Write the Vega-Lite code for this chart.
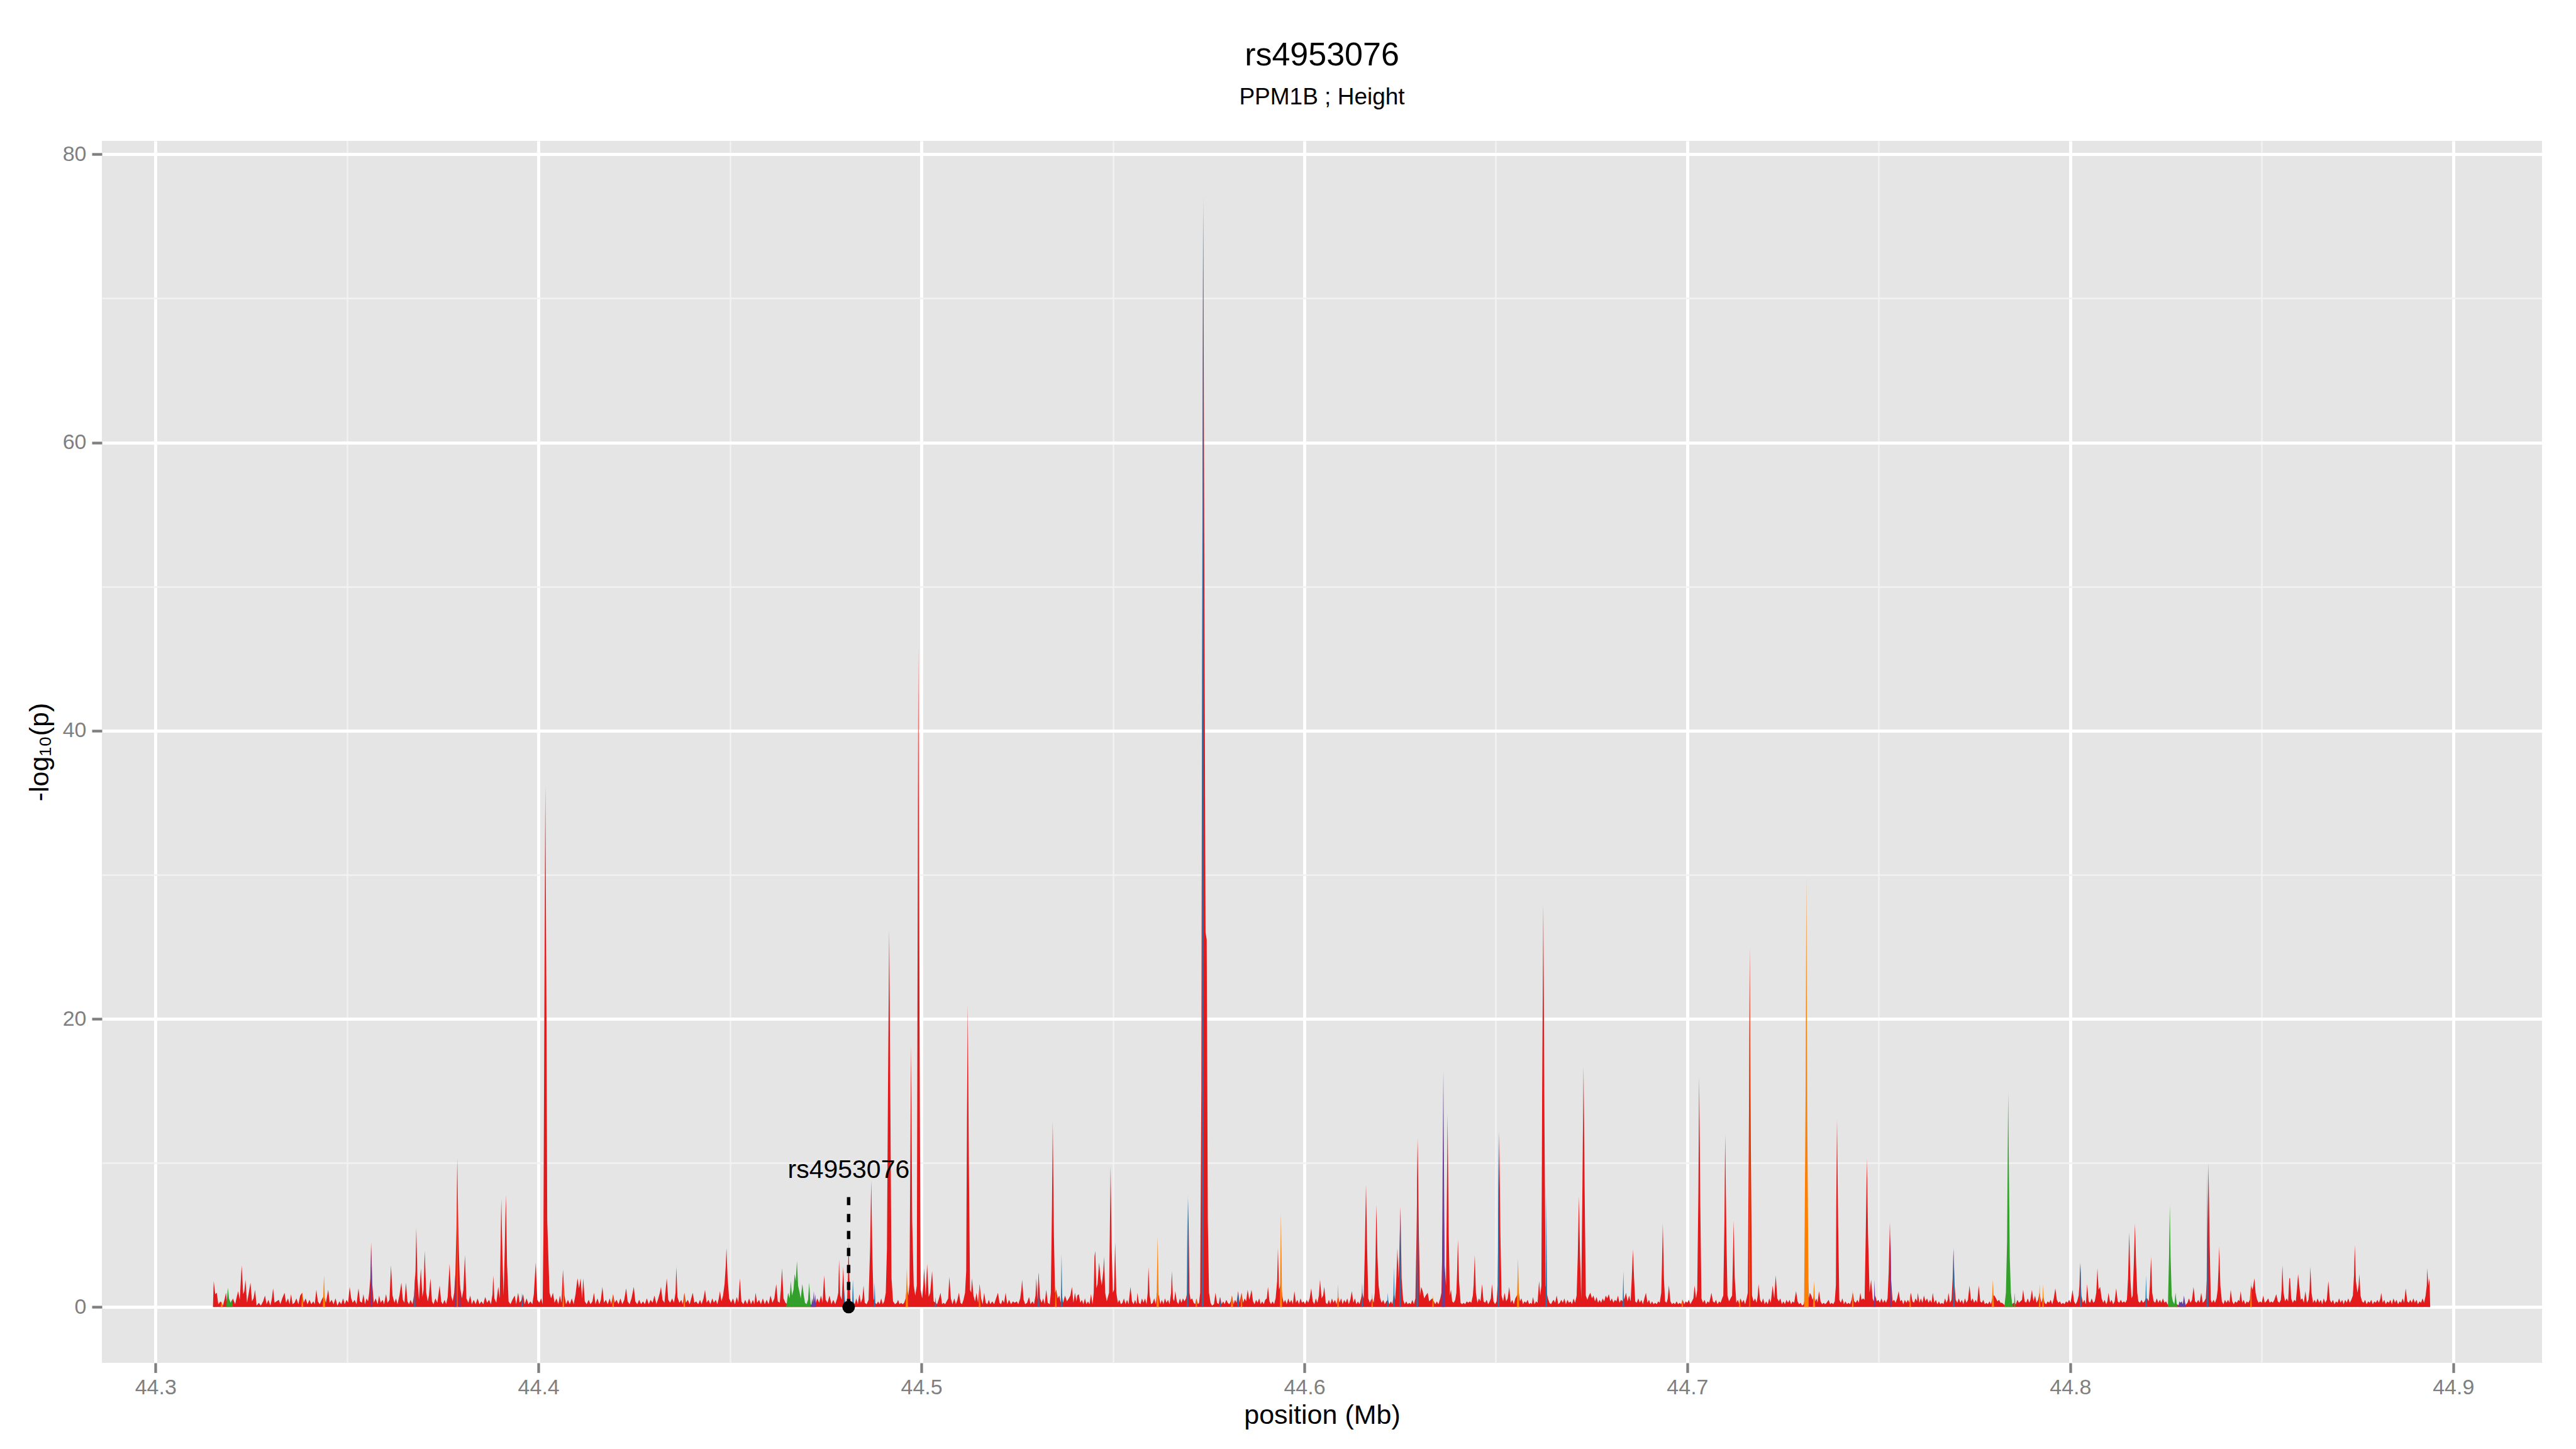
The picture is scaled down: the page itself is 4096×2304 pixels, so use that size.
{
"$schema": "https://vega.github.io/schema/vega-lite/v6.json",
"width": 3880, "height": 1943,
"autosize": {"type": "none"},
"padding": {"left": 162, "top": 224, "right": 54, "bottom": 137},
"background": "white",
"title": {"text": "rs4953076", "subtitle": "PPM1B ; Height", "anchor": "middle", "frame": "group", "font": "Liberation Sans", "subtitleFont": "Liberation Sans", "fontSize": 52, "subtitleFontSize": 37, "fontWeight": "normal", "color": "black", "subtitleColor": "black", "offset": 50, "subtitlePadding": 22},
"config": {"view": {"fill": "#E5E5E5", "stroke": null}, "font": "Liberation Sans"},
"datasets": {
"main": [
{"x":44.3150,"y":0},{"x":44.3152,"y":1.8},{"x":44.3156,"y":0.9},{"x":44.3160,"y":1.0},{"x":44.3164,"y":0.2},{"x":44.3170,"y":0.4},{"x":44.3176,"y":0.1},{"x":44.3181,"y":0.6},{"x":44.3184,"y":1.0},{"x":44.3187,"y":0.3},{"x":44.3192,"y":0.5},{"x":44.3197,"y":0.2},{"x":44.3202,"y":0.6},{"x":44.3208,"y":0.2},{"x":44.3213,"y":0.8},{"x":44.3216,"y":1.1},{"x":44.3220,"y":0.5},{"x":44.3225,"y":2.9},{"x":44.3229,"y":0.9},{"x":44.3232,"y":1.1},{"x":44.3235,"y":1.9},{"x":44.3239,"y":0.3},{"x":44.3243,"y":0.9},{"x":44.3248,"y":1.7},{"x":44.3252,"y":0.4},{"x":44.3256,"y":0.6},{"x":44.3260,"y":1.2},{"x":44.3264,"y":0.1},{"x":44.3270,"y":0.3},{"x":44.3275,"y":0.1},{"x":44.3281,"y":0.4},{"x":44.3286,"y":0.8},{"x":44.3290,"y":0.2},{"x":44.3295,"y":0.5},{"x":44.3300,"y":0.1},{"x":44.3304,"y":0.6},{"x":44.3307,"y":1.3},{"x":44.3311,"y":0.3},{"x":44.3316,"y":0.4},{"x":44.3322,"y":0.5},{"x":44.3326,"y":0.2},{"x":44.3331,"y":0.6},{"x":44.3337,"y":1.0},{"x":44.3341,"y":0.3},{"x":44.3346,"y":0.6},{"x":44.3350,"y":0.2},{"x":44.3354,"y":0.9},{"x":44.3358,"y":0.2},{"x":44.3363,"y":0.3},{"x":44.3368,"y":0.6},{"x":44.3373,"y":0.2},{"x":44.3378,"y":0.8},{"x":44.3383,"y":1.0},{"x":44.3387,"y":0.3},{"x":44.3392,"y":0.6},{"x":44.3397,"y":0.2},{"x":44.3402,"y":0.5},{"x":44.3407,"y":0.2},{"x":44.3412,"y":0.4},{"x":44.3416,"y":0.2},{"x":44.3420,"y":1.2},{"x":44.3424,"y":0.4},{"x":44.3429,"y":0.2},{"x":44.3434,"y":0.5},{"x":44.3440,"y":0.8},{"x":44.3445,"y":0.3},{"x":44.3451,"y":1.2},{"x":44.3455,"y":0.3},{"x":44.3460,"y":0.5},{"x":44.3465,"y":0.2},{"x":44.3470,"y":0.6},{"x":44.3475,"y":0.1},{"x":44.3480,"y":0.4},{"x":44.3485,"y":0.2},{"x":44.3490,"y":0.6},{"x":44.3494,"y":0.2},{"x":44.3499,"y":0.5},{"x":44.3503,"y":0.3},{"x":44.3507,"y":1.4},{"x":44.3511,"y":0.6},{"x":44.3515,"y":0.3},{"x":44.3520,"y":0.5},{"x":44.3525,"y":0.2},{"x":44.3530,"y":1.3},{"x":44.3534,"y":0.4},{"x":44.3539,"y":0.3},{"x":44.3543,"y":0.9},{"x":44.3547,"y":0.2},{"x":44.3551,"y":0.6},{"x":44.3555,"y":0.4},{"x":44.3558,"y":1.0},{"x":44.3561,"y":2.0},{"x":44.3563,"y":4.5},{"x":44.3566,"y":1.6},{"x":44.3570,"y":0.3},{"x":44.3575,"y":0.6},{"x":44.3580,"y":0.2},{"x":44.3584,"y":0.8},{"x":44.3588,"y":0.3},{"x":44.3593,"y":0.5},{"x":44.3597,"y":0.2},{"x":44.3602,"y":0.9},{"x":44.3606,"y":0.3},{"x":44.3611,"y":0.5},{"x":44.3615,"y":2.9},{"x":44.3619,"y":0.8},{"x":44.3624,"y":0.3},{"x":44.3628,"y":0.6},{"x":44.3632,"y":0.2},{"x":44.3637,"y":0.8},{"x":44.3642,"y":1.7},{"x":44.3646,"y":0.5},{"x":44.3650,"y":0.3},{"x":44.3654,"y":1.7},{"x":44.3658,"y":0.4},{"x":44.3662,"y":0.2},{"x":44.3666,"y":0.5},{"x":44.3671,"y":0.2},{"x":44.3675,"y":0.8},{"x":44.3679,"y":2.5},{"x":44.3681,"y":5.5},{"x":44.3684,"y":2.0},{"x":44.3688,"y":0.5},{"x":44.3693,"y":2.7},{"x":44.3697,"y":0.7},{"x":44.3700,"y":1.2},{"x":44.3703,"y":3.9},{"x":44.3707,"y":1.0},{"x":44.3711,"y":0.4},{"x":44.3714,"y":0.8},{"x":44.3718,"y":2.0},{"x":44.3722,"y":0.4},{"x":44.3726,"y":0.2},{"x":44.3731,"y":0.6},{"x":44.3736,"y":0.3},{"x":44.3742,"y":1.5},{"x":44.3746,"y":0.4},{"x":44.3750,"y":0.2},{"x":44.3755,"y":0.5},{"x":44.3759,"y":0.2},{"x":44.3763,"y":0.7},{"x":44.3768,"y":3.0},{"x":44.3772,"y":0.8},{"x":44.3776,"y":0.4},{"x":44.3780,"y":1.0},{"x":44.3783,"y":2.3},{"x":44.3786,"y":5.5},{"x":44.3788,"y":10.3},{"x":44.3791,"y":5.0},{"x":44.3795,"y":1.5},{"x":44.3800,"y":0.6},{"x":44.3804,"y":1.2},{"x":44.3808,"y":3.6},{"x":44.3812,"y":0.6},{"x":44.3817,"y":0.3},{"x":44.3822,"y":0.8},{"x":44.3826,"y":0.2},{"x":44.3831,"y":0.5},{"x":44.3836,"y":0.2},{"x":44.3841,"y":0.6},{"x":44.3846,"y":0.2},{"x":44.3851,"y":0.4},{"x":44.3856,"y":0.2},{"x":44.3861,"y":0.7},{"x":44.3866,"y":0.3},{"x":44.3871,"y":0.5},{"x":44.3876,"y":0.2},{"x":44.3880,"y":0.9},{"x":44.3882,"y":2.2},{"x":44.3885,"y":0.6},{"x":44.3890,"y":0.3},{"x":44.3895,"y":1.4},{"x":44.3899,"y":0.6},{"x":44.3901,"y":4.0},{"x":44.3903,"y":7.5},{"x":44.3906,"y":3.5},{"x":44.3909,"y":0.8},{"x":44.3912,"y":4.0},{"x":44.3915,"y":7.8},{"x":44.3918,"y":3.0},{"x":44.3922,"y":0.4},{"x":44.3927,"y":0.2},{"x":44.3932,"y":0.5},{"x":44.3938,"y":0.8},{"x":44.3942,"y":0.2},{"x":44.3947,"y":1.0},{"x":44.3951,"y":0.3},{"x":44.3956,"y":0.5},{"x":44.3960,"y":0.9},{"x":44.3964,"y":0.2},{"x":44.3969,"y":0.6},{"x":44.3974,"y":0.2},{"x":44.3979,"y":0.4},{"x":44.3984,"y":0.2},{"x":44.3988,"y":0.9},{"x":44.3993,"y":3.1},{"x":44.3997,"y":0.5},{"x":44.4002,"y":0.3},{"x":44.4007,"y":0.6},{"x":44.4011,"y":0.2},{"x":44.4013,"y":5.0},{"x":44.4016,"y":24.0},{"x":44.4018,"y":36.2},{"x":44.4021,"y":20.0},{"x":44.4023,"y":6.0},{"x":44.4026,"y":3.4},{"x":44.4029,"y":1.0},{"x":44.4033,"y":0.6},{"x":44.4038,"y":1.0},{"x":44.4042,"y":0.3},{"x":44.4047,"y":0.6},{"x":44.4052,"y":0.2},{"x":44.4056,"y":0.8},{"x":44.4060,"y":0.3},{"x":44.4064,"y":2.6},{"x":44.4068,"y":0.8},{"x":44.4072,"y":0.2},{"x":44.4077,"y":0.5},{"x":44.4082,"y":0.2},{"x":44.4087,"y":0.6},{"x":44.4092,"y":0.2},{"x":44.4097,"y":0.9},{"x":44.4100,"y":1.6},{"x":44.4102,"y":2.0},{"x":44.4106,"y":1.3},{"x":44.4110,"y":2.0},{"x":44.4114,"y":0.6},{"x":44.4117,"y":2.0},{"x":44.4121,"y":0.4},{"x":44.4126,"y":0.2},{"x":44.4131,"y":0.5},{"x":44.4136,"y":0.2},{"x":44.4141,"y":0.4},{"x":44.4145,"y":1.0},{"x":44.4149,"y":0.2},{"x":44.4154,"y":0.6},{"x":44.4159,"y":0.2},{"x":44.4163,"y":0.5},{"x":44.4167,"y":1.4},{"x":44.4171,"y":0.3},{"x":44.4176,"y":0.5},{"x":44.4181,"y":0.2},{"x":44.4186,"y":0.6},{"x":44.4190,"y":0.2},{"x":44.4195,"y":0.9},{"x":44.4199,"y":0.3},{"x":44.4204,"y":0.5},{"x":44.4209,"y":0.2},{"x":44.4214,"y":0.6},{"x":44.4219,"y":0.2},{"x":44.4224,"y":0.5},{"x":44.4229,"y":1.3},{"x":44.4233,"y":0.4},{"x":44.4238,"y":0.2},{"x":44.4243,"y":0.6},{"x":44.4249,"y":1.4},{"x":44.4253,"y":0.4},{"x":44.4258,"y":0.2},{"x":44.4263,"y":0.5},{"x":44.4268,"y":0.2},{"x":44.4273,"y":0.4},{"x":44.4278,"y":0.2},{"x":44.4283,"y":0.6},{"x":44.4288,"y":0.2},{"x":44.4293,"y":0.5},{"x":44.4298,"y":0.3},{"x":44.4303,"y":0.8},{"x":44.4308,"y":0.2},{"x":44.4313,"y":0.6},{"x":44.4317,"y":1.0},{"x":44.4320,"y":1.4},{"x":44.4324,"y":0.5},{"x":44.4329,"y":0.3},{"x":44.4335,"y":2.0},{"x":44.4339,"y":0.5},{"x":44.4344,"y":0.3},{"x":44.4349,"y":0.6},{"x":44.4354,"y":0.3},{"x":44.4358,"y":1.0},{"x":44.4360,"y":2.8},{"x":44.4363,"y":0.7},{"x":44.4368,"y":0.3},{"x":44.4373,"y":0.5},{"x":44.4377,"y":0.2},{"x":44.4381,"y":1.0},{"x":44.4385,"y":0.3},{"x":44.4390,"y":0.5},{"x":44.4395,"y":0.2},{"x":44.4399,"y":0.6},{"x":44.4403,"y":1.0},{"x":44.4407,"y":0.3},{"x":44.4412,"y":0.4},{"x":44.4417,"y":0.2},{"x":44.4422,"y":0.5},{"x":44.4426,"y":0.2},{"x":44.4431,"y":0.6},{"x":44.4435,"y":1.2},{"x":44.4439,"y":0.3},{"x":44.4444,"y":0.5},{"x":44.4449,"y":0.2},{"x":44.4454,"y":0.6},{"x":44.4458,"y":0.3},{"x":44.4463,"y":0.5},{"x":44.4467,"y":0.2},{"x":44.4471,"y":0.6},{"x":44.4474,"y":1.1},{"x":44.4478,"y":0.4},{"x":44.4482,"y":0.8},{"x":44.4486,"y":1.6},{"x":44.4489,"y":2.8},{"x":44.4491,"y":4.1},{"x":44.4494,"y":2.0},{"x":44.4498,"y":0.6},{"x":44.4503,"y":0.3},{"x":44.4508,"y":0.6},{"x":44.4513,"y":0.2},{"x":44.4518,"y":0.7},{"x":44.4522,"y":0.3},{"x":44.4526,"y":2.0},{"x":44.4530,"y":0.4},{"x":44.4535,"y":0.2},{"x":44.4540,"y":0.5},{"x":44.4545,"y":0.2},{"x":44.4550,"y":0.6},{"x":44.4555,"y":0.2},{"x":44.4560,"y":0.5},{"x":44.4564,"y":0.2},{"x":44.4567,"y":1.0},{"x":44.4571,"y":0.3},{"x":44.4576,"y":0.5},{"x":44.4581,"y":0.2},{"x":44.4586,"y":0.6},{"x":44.4591,"y":0.2},{"x":44.4596,"y":0.5},{"x":44.4601,"y":0.2},{"x":44.4606,"y":0.8},{"x":44.4611,"y":0.3},{"x":44.4616,"y":0.6},{"x":44.4621,"y":1.6},{"x":44.4625,"y":0.4},{"x":44.4630,"y":0.3},{"x":44.4633,"y":1.2},{"x":44.4636,"y":2.7},{"x":44.4640,"y":0.6},{"x":44.4645,"y":0.3},{"x":44.4650,"y":0.2},{"x":44.4660,"y":0.1},{"x":44.4670,"y":0.1},{"x":44.4680,"y":0.1},{"x":44.4690,"y":0.1},{"x":44.4700,"y":0.1},{"x":44.4710,"y":0.2},{"x":44.4716,"y":0.1},{"x":44.4722,"y":0.1},{"x":44.4728,"y":0.6},{"x":44.4733,"y":0.3},{"x":44.4738,"y":0.8},{"x":44.4742,"y":0.3},{"x":44.4746,"y":2.2},{"x":44.4750,"y":0.5},{"x":44.4755,"y":0.3},{"x":44.4760,"y":0.8},{"x":44.4765,"y":0.2},{"x":44.4770,"y":0.5},{"x":44.4775,"y":0.2},{"x":44.4780,"y":0.6},{"x":44.4783,"y":1.0},{"x":44.4785,"y":3.3},{"x":44.4788,"y":0.8},{"x":44.4792,"y":0.5},{"x":44.4796,"y":2.8},{"x":44.4799,"y":0.6},{"x":44.4802,"y":0.2},{"x":44.4806,"y":0.5},{"x":44.4808,"y":2.0},{"x":44.4810,"y":4.5},{"x":44.4812,"y":2.0},{"x":44.4815,"y":0.3},{"x":44.4818,"y":0.2},{"x":44.4822,"y":0.4},{"x":44.4826,"y":0.2},{"x":44.4830,"y":0.6},{"x":44.4834,"y":0.2},{"x":44.4838,"y":0.9},{"x":44.4842,"y":0.3},{"x":44.4846,"y":0.6},{"x":44.4849,"y":1.5},{"x":44.4852,"y":0.3},{"x":44.4857,"y":0.2},{"x":44.4862,"y":0.5},{"x":44.4866,"y":4.0},{"x":44.4869,"y":8.8},{"x":44.4872,"y":3.5},{"x":44.4875,"y":0.6},{"x":44.4879,"y":0.3},{"x":44.4883,"y":0.2},{"x":44.4887,"y":0.4},{"x":44.4891,"y":0.2},{"x":44.4895,"y":0.6},{"x":44.4899,"y":0.2},{"x":44.4903,"y":0.4},{"x":44.4907,"y":1.0},{"x":44.4910,"y":4.0},{"x":44.4913,"y":16.0},{"x":44.4916,"y":26.2},{"x":44.4919,"y":14.0},{"x":44.4922,"y":2.0},{"x":44.4926,"y":0.4},{"x":44.4931,"y":0.2},{"x":44.4936,"y":0.3},{"x":44.4939,"y":0.5},{"x":44.4943,"y":0.2},{"x":44.4947,"y":0.3},{"x":44.4951,"y":0.2},{"x":44.4955,"y":0.3},{"x":44.4959,"y":0.6},{"x":44.4962,"y":1.5},{"x":44.4966,"y":0.8},{"x":44.4969,"y":1.6},{"x":44.4971,"y":10.0},{"x":44.4973,"y":18.2},{"x":44.4976,"y":6.0},{"x":44.4980,"y":1.5},{"x":44.4984,"y":0.8},{"x":44.4988,"y":1.5},{"x":44.4990,"y":24.0},{"x":44.4992,"y":45.8},{"x":44.4995,"y":20.0},{"x":44.4998,"y":1.2},{"x":44.5002,"y":0.6},{"x":44.5005,"y":1.5},{"x":44.5007,"y":2.7},{"x":44.5011,"y":0.8},{"x":44.5015,"y":3.0},{"x":44.5019,"y":0.7},{"x":44.5023,"y":1.0},{"x":44.5028,"y":2.5},{"x":44.5032,"y":0.4},{"x":44.5037,"y":0.3},{"x":44.5041,"y":0.2},{"x":44.5046,"y":0.6},{"x":44.5050,"y":1.0},{"x":44.5054,"y":0.2},{"x":44.5058,"y":0.3},{"x":44.5062,"y":0.2},{"x":44.5066,"y":0.4},{"x":44.5070,"y":0.6},{"x":44.5073,"y":2.1},{"x":44.5077,"y":0.6},{"x":44.5081,"y":0.2},{"x":44.5086,"y":0.6},{"x":44.5090,"y":0.2},{"x":44.5094,"y":0.5},{"x":44.5098,"y":1.0},{"x":44.5102,"y":0.3},{"x":44.5106,"y":0.2},{"x":44.5110,"y":0.5},{"x":44.5114,"y":1.0},{"x":44.5117,"y":2.5},{"x":44.5119,"y":13.0},{"x":44.5121,"y":21.0},{"x":44.5124,"y":10.0},{"x":44.5127,"y":1.2},{"x":44.5130,"y":1.0},{"x":44.5132,"y":2.0},{"x":44.5136,"y":0.8},{"x":44.5140,"y":0.4},{"x":44.5144,"y":1.0},{"x":44.5148,"y":0.3},{"x":44.5152,"y":1.6},{"x":44.5156,"y":0.6},{"x":44.5160,"y":0.2},{"x":44.5164,"y":1.0},{"x":44.5168,"y":0.3},{"x":44.5172,"y":0.2},{"x":44.5176,"y":0.5},{"x":44.5180,"y":0.2},{"x":44.5185,"y":0.4},{"x":44.5190,"y":0.2},{"x":44.5195,"y":0.6},{"x":44.5200,"y":1.0},{"x":44.5204,"y":0.3},{"x":44.5208,"y":0.2},{"x":44.5212,"y":0.5},{"x":44.5216,"y":0.3},{"x":44.5220,"y":1.0},{"x":44.5224,"y":0.2},{"x":44.5229,"y":0.5},{"x":44.5234,"y":0.2},{"x":44.5239,"y":0.4},{"x":44.5244,"y":0.3},{"x":44.5249,"y":0.4},{"x":44.5253,"y":0.2},{"x":44.5258,"y":0.6},{"x":44.5261,"y":1.2},{"x":44.5263,"y":1.9},{"x":44.5267,"y":0.5},{"x":44.5271,"y":0.2},{"x":44.5276,"y":0.3},{"x":44.5281,"y":0.7},{"x":44.5285,"y":0.2},{"x":44.5290,"y":0.4},{"x":44.5294,"y":0.2},{"x":44.5298,"y":0.8},{"x":44.5300,"y":2.0},{"x":44.5303,"y":0.5},{"x":44.5306,"y":2.4},{"x":44.5310,"y":0.6},{"x":44.5314,"y":0.3},{"x":44.5318,"y":0.6},{"x":44.5322,"y":0.2},{"x":44.5326,"y":1.2},{"x":44.5330,"y":0.3},{"x":44.5335,"y":0.2},{"x":44.5338,"y":1.0},{"x":44.5341,"y":7.0},{"x":44.5343,"y":12.9},{"x":44.5346,"y":5.0},{"x":44.5349,"y":1.0},{"x":44.5352,"y":1.2},{"x":44.5356,"y":0.6},{"x":44.5360,"y":0.8},{"x":44.5364,"y":0.3},{"x":44.5366,"y":1.0},{"x":44.5370,"y":0.3},{"x":44.5375,"y":0.8},{"x":44.5380,"y":0.4},{"x":44.5385,"y":0.6},{"x":44.5389,"y":0.8},{"x":44.5393,"y":1.4},{"x":44.5397,"y":0.3},{"x":44.5401,"y":1.0},{"x":44.5405,"y":0.4},{"x":44.5407,"y":0.8},{"x":44.5411,"y":0.9},{"x":44.5415,"y":0.3},{"x":44.5419,"y":0.5},{"x":44.5423,"y":0.2},{"x":44.5427,"y":0.6},{"x":44.5431,"y":0.2},{"x":44.5435,"y":0.4},{"x":44.5439,"y":0.2},{"x":44.5443,"y":0.9},{"x":44.5447,"y":0.2},{"x":44.5450,"y":1.0},{"x":44.5452,"y":3.5},{"x":44.5454,"y":3.9},{"x":44.5457,"y":1.3},{"x":44.5460,"y":1.6},{"x":44.5464,"y":3.1},{"x":44.5468,"y":2.0},{"x":44.5471,"y":1.5},{"x":44.5475,"y":2.5},{"x":44.5477,"y":3.5},{"x":44.5480,"y":1.0},{"x":44.5484,"y":0.4},{"x":44.5490,"y":1.0},{"x":44.5492,"y":5.0},{"x":44.5494,"y":9.8},{"x":44.5497,"y":4.0},{"x":44.5500,"y":1.0},{"x":44.5503,"y":1.2},{"x":44.5506,"y":4.5},{"x":44.5509,"y":1.0},{"x":44.5513,"y":0.3},{"x":44.5517,"y":0.5},{"x":44.5521,"y":0.2},{"x":44.5525,"y":0.3},{"x":44.5529,"y":0.6},{"x":44.5533,"y":0.2},{"x":44.5537,"y":0.5},{"x":44.5541,"y":0.2},{"x":44.5546,"y":1.4},{"x":44.5550,"y":0.4},{"x":44.5554,"y":0.2},{"x":44.5558,"y":0.5},{"x":44.5562,"y":0.2},{"x":44.5564,"y":1.0},{"x":44.5568,"y":0.3},{"x":44.5572,"y":0.2},{"x":44.5576,"y":0.6},{"x":44.5580,"y":0.3},{"x":44.5584,"y":0.6},{"x":44.5588,"y":0.2},{"x":44.5591,"y":1.0},{"x":44.5593,"y":2.8},{"x":44.5596,"y":0.8},{"x":44.5600,"y":0.2},{"x":44.5604,"y":0.3},{"x":44.5608,"y":0.6},{"x":44.5612,"y":0.2},{"x":44.5615,"y":1.0},{"x":44.5620,"y":0.8},{"x":44.5624,"y":0.2},{"x":44.5628,"y":0.5},{"x":44.5632,"y":0.2},{"x":44.5636,"y":0.6},{"x":44.5640,"y":0.3},{"x":44.5644,"y":0.5},{"x":44.5648,"y":0.2},{"x":44.5652,"y":1.0},{"x":44.5654,"y":2.5},{"x":44.5657,"y":0.6},{"x":44.5660,"y":0.4},{"x":44.5663,"y":1.1},{"x":44.5667,"y":0.4},{"x":44.5671,"y":0.2},{"x":44.5675,"y":0.6},{"x":44.5679,"y":0.3},{"x":44.5683,"y":0.6},{"x":44.5687,"y":0.4},{"x":44.5691,"y":0.6},{"x":44.5694,"y":1.0},{"x":44.5697,"y":7.5},{"x":44.5700,"y":1.0},{"x":44.5703,"y":0.5},{"x":44.5707,"y":0.6},{"x":44.5711,"y":0.3},{"x":44.5715,"y":0.2},{"x":44.5718,"y":0.6},{"x":44.5722,"y":0.2},{"x":44.5725,"y":0.3},{"x":44.5728,"y":1.0},{"x":44.5731,"y":15.0},{"x":44.5733,"y":45.0},{"x":44.5736,"y":77.0},{"x":44.5739,"y":50.0},{"x":44.5742,"y":26.0},{"x":44.5745,"y":25.5},{"x":44.5748,"y":6.0},{"x":44.5751,"y":1.0},{"x":44.5755,"y":0.3},{"x":44.5759,"y":0.1},{"x":44.5764,"y":0.2},{"x":44.5768,"y":1.0},{"x":44.5772,"y":0.3},{"x":44.5776,"y":0.2},{"x":44.5780,"y":0.7},{"x":44.5784,"y":0.2},{"x":44.5788,"y":0.4},{"x":44.5792,"y":0.2},{"x":44.5796,"y":0.5},{"x":44.5800,"y":0.3},{"x":44.5804,"y":0.2},{"x":44.5808,"y":0.4},{"x":44.5811,"y":0.8},{"x":44.5815,"y":0.2},{"x":44.5819,"y":0.5},{"x":44.5823,"y":0.3},{"x":44.5827,"y":1.1},{"x":44.5831,"y":0.3},{"x":44.5836,"y":1.0},{"x":44.5840,"y":0.3},{"x":44.5844,"y":0.6},{"x":44.5848,"y":0.4},{"x":44.5852,"y":1.2},{"x":44.5856,"y":0.5},{"x":44.5859,"y":0.8},{"x":44.5862,"y":1.2},{"x":44.5866,"y":0.4},{"x":44.5870,"y":0.2},{"x":44.5874,"y":0.5},{"x":44.5878,"y":0.3},{"x":44.5882,"y":0.6},{"x":44.5886,"y":0.2},{"x":44.5890,"y":0.4},{"x":44.5894,"y":0.2},{"x":44.5898,"y":0.5},{"x":44.5902,"y":0.6},{"x":44.5905,"y":1.4},{"x":44.5909,"y":0.4},{"x":44.5913,"y":0.2},{"x":44.5917,"y":0.4},{"x":44.5921,"y":0.2},{"x":44.5925,"y":0.6},{"x":44.5929,"y":1.8},{"x":44.5931,"y":4.1},{"x":44.5934,"y":1.2},{"x":44.5937,"y":1.5},{"x":44.5939,"y":2.0},{"x":44.5942,"y":0.8},{"x":44.5946,"y":0.3},{"x":44.5950,"y":0.5},{"x":44.5954,"y":0.2},{"x":44.5958,"y":0.6},{"x":44.5962,"y":0.3},{"x":44.5966,"y":0.5},{"x":44.5970,"y":0.2},{"x":44.5974,"y":1.1},{"x":44.5978,"y":0.3},{"x":44.5982,"y":0.5},{"x":44.5986,"y":0.2},{"x":44.5990,"y":0.6},{"x":44.5994,"y":0.3},{"x":44.5998,"y":0.4},{"x":44.6002,"y":0.2},{"x":44.6006,"y":0.5},{"x":44.6010,"y":0.3},{"x":44.6014,"y":0.6},{"x":44.6018,"y":1.3},{"x":44.6022,"y":0.4},{"x":44.6026,"y":0.2},{"x":44.6030,"y":0.6},{"x":44.6034,"y":0.3},{"x":44.6038,"y":0.8},{"x":44.6041,"y":1.9},{"x":44.6045,"y":0.6},{"x":44.6049,"y":0.8},{"x":44.6052,"y":1.4},{"x":44.6056,"y":0.3},{"x":44.6060,"y":0.2},{"x":44.6064,"y":0.5},{"x":44.6068,"y":0.2},{"x":44.6072,"y":0.6},{"x":44.6076,"y":0.3},{"x":44.6080,"y":0.5},{"x":44.6084,"y":0.2},{"x":44.6088,"y":0.8},{"x":44.6092,"y":0.3},{"x":44.6096,"y":0.6},{"x":44.6100,"y":0.2},{"x":44.6104,"y":0.5},{"x":44.6108,"y":0.3},{"x":44.6112,"y":0.6},{"x":44.6116,"y":0.2},{"x":44.6120,"y":0.5},{"x":44.6124,"y":1.1},{"x":44.6128,"y":0.3},{"x":44.6132,"y":0.6},{"x":44.6136,"y":0.2},{"x":44.6140,"y":0.4},{"x":44.6144,"y":0.2},{"x":44.6148,"y":0.6},{"x":44.6151,"y":1.0},{"x":44.6155,"y":0.6},{"x":44.6158,"y":4.0},{"x":44.6161,"y":8.5},{"x":44.6164,"y":4.0},{"x":44.6167,"y":0.6},{"x":44.6171,"y":0.3},{"x":44.6174,"y":0.5},{"x":44.6177,"y":0.6},{"x":44.6181,"y":0.3},{"x":44.6184,"y":1.0},{"x":44.6186,"y":3.5},{"x":44.6188,"y":7.1},{"x":44.6191,"y":3.5},{"x":44.6194,"y":1.5},{"x":44.6198,"y":0.6},{"x":44.6202,"y":0.3},{"x":44.6206,"y":0.5},{"x":44.6210,"y":0.2},{"x":44.6214,"y":0.4},{"x":44.6218,"y":0.5},{"x":44.6222,"y":0.2},{"x":44.6226,"y":0.4},{"x":44.6230,"y":0.2},{"x":44.6234,"y":1.0},{"x":44.6237,"y":0.5},{"x":44.6240,"y":1.8},{"x":44.6243,"y":4.1},{"x":44.6246,"y":2.0},{"x":44.6248,"y":3.5},{"x":44.6251,"y":7.0},{"x":44.6254,"y":2.0},{"x":44.6258,"y":0.5},{"x":44.6262,"y":0.2},{"x":44.6266,"y":0.4},{"x":44.6270,"y":0.2},{"x":44.6274,"y":0.3},{"x":44.6278,"y":0.2},{"x":44.6282,"y":0.5},{"x":44.6286,"y":0.2},{"x":44.6290,"y":0.6},{"x":44.6293,"y":5.0},{"x":44.6296,"y":11.7},{"x":44.6299,"y":5.0},{"x":44.6302,"y":0.8},{"x":44.6305,"y":1.4},{"x":44.6309,"y":1.1},{"x":44.6313,"y":0.6},{"x":44.6317,"y":0.8},{"x":44.6322,"y":1.0},{"x":44.6326,"y":0.4},{"x":44.6330,"y":0.5},{"x":44.6334,"y":0.6},{"x":44.6338,"y":0.4},{"x":44.6342,"y":0.2},{"x":44.6346,"y":0.4},{"x":44.6350,"y":0.2},{"x":44.6355,"y":0.6},{"x":44.6358,"y":1.0},{"x":44.6361,"y":5.0},{"x":44.6363,"y":10.0},{"x":44.6366,"y":3.0},{"x":44.6370,"y":1.5},{"x":44.6372,"y":7.0},{"x":44.6374,"y":13.4},{"x":44.6377,"y":5.0},{"x":44.6380,"y":0.8},{"x":44.6383,"y":1.2},{"x":44.6386,"y":0.4},{"x":44.6390,"y":0.3},{"x":44.6394,"y":0.5},{"x":44.6397,"y":1.0},{"x":44.6399,"y":2.5},{"x":44.6401,"y":4.7},{"x":44.6404,"y":1.8},{"x":44.6408,"y":0.3},{"x":44.6412,"y":0.2},{"x":44.6416,"y":0.3},{"x":44.6420,"y":0.2},{"x":44.6424,"y":0.4},{"x":44.6428,"y":0.3},{"x":44.6432,"y":0.4},{"x":44.6436,"y":0.3},{"x":44.6440,"y":0.8},{"x":44.6442,"y":1.5},{"x":44.6445,"y":3.6},{"x":44.6448,"y":1.0},{"x":44.6452,"y":0.3},{"x":44.6456,"y":0.6},{"x":44.6460,"y":0.4},{"x":44.6464,"y":1.6},{"x":44.6468,"y":0.4},{"x":44.6472,"y":0.3},{"x":44.6476,"y":0.5},{"x":44.6480,"y":0.2},{"x":44.6484,"y":0.4},{"x":44.6487,"y":0.6},{"x":44.6490,"y":1.6},{"x":44.6494,"y":0.4},{"x":44.6498,"y":0.2},{"x":44.6502,"y":0.4},{"x":44.6505,"y":1.5},{"x":44.6507,"y":7.0},{"x":44.6509,"y":12.2},{"x":44.6512,"y":5.0},{"x":44.6515,"y":0.8},{"x":44.6519,"y":0.4},{"x":44.6523,"y":1.0},{"x":44.6527,"y":0.4},{"x":44.6531,"y":0.6},{"x":44.6535,"y":1.4},{"x":44.6539,"y":0.3},{"x":44.6543,"y":0.5},{"x":44.6547,"y":0.2},{"x":44.6551,"y":0.6},{"x":44.6555,"y":0.8},{"x":44.6560,"y":1.0},{"x":44.6563,"y":0.4},{"x":44.6567,"y":0.6},{"x":44.6571,"y":0.2},{"x":44.6575,"y":0.4},{"x":44.6579,"y":0.3},{"x":44.6583,"y":0.5},{"x":44.6587,"y":0.2},{"x":44.6591,"y":0.3},{"x":44.6594,"y":0.2},{"x":44.6597,"y":0.7},{"x":44.6601,"y":0.2},{"x":44.6605,"y":0.4},{"x":44.6609,"y":0.3},{"x":44.6613,"y":1.8},{"x":44.6616,"y":0.8},{"x":44.6619,"y":1.5},{"x":44.6621,"y":15.0},{"x":44.6624,"y":28.0},{"x":44.6627,"y":13.0},{"x":44.6630,"y":1.5},{"x":44.6633,"y":1.0},{"x":44.6636,"y":0.6},{"x":44.6640,"y":0.3},{"x":44.6644,"y":0.2},{"x":44.6648,"y":0.4},{"x":44.6651,"y":0.5},{"x":44.6655,"y":0.3},{"x":44.6659,"y":0.8},{"x":44.6663,"y":0.2},{"x":44.6667,"y":0.3},{"x":44.6671,"y":0.5},{"x":44.6675,"y":0.3},{"x":44.6679,"y":0.6},{"x":44.6683,"y":0.2},{"x":44.6687,"y":0.5},{"x":44.6691,"y":0.3},{"x":44.6695,"y":0.4},{"x":44.6699,"y":0.2},{"x":44.6703,"y":0.6},{"x":44.6707,"y":0.3},{"x":44.6711,"y":0.8},{"x":44.6714,"y":3.5},{"x":44.6717,"y":7.7},{"x":44.6720,"y":3.5},{"x":44.6723,"y":0.6},{"x":44.6726,"y":8.0},{"x":44.6729,"y":16.7},{"x":44.6732,"y":8.0},{"x":44.6735,"y":0.8},{"x":44.6739,"y":0.5},{"x":44.6743,"y":0.8},{"x":44.6747,"y":1.0},{"x":44.6751,"y":0.6},{"x":44.6755,"y":0.8},{"x":44.6759,"y":0.4},{"x":44.6763,"y":0.7},{"x":44.6767,"y":0.3},{"x":44.6771,"y":0.5},{"x":44.6775,"y":0.3},{"x":44.6779,"y":0.6},{"x":44.6783,"y":0.4},{"x":44.6787,"y":0.8},{"x":44.6791,"y":0.6},{"x":44.6795,"y":0.9},{"x":44.6799,"y":0.4},{"x":44.6803,"y":0.6},{"x":44.6807,"y":0.3},{"x":44.6811,"y":0.5},{"x":44.6815,"y":0.4},{"x":44.6819,"y":0.8},{"x":44.6823,"y":0.3},{"x":44.6827,"y":0.5},{"x":44.6831,"y":0.4},{"x":44.6836,"y":0.6},{"x":44.6840,"y":1.0},{"x":44.6844,"y":0.4},{"x":44.6848,"y":0.8},{"x":44.6852,"y":0.4},{"x":44.6855,"y":2.0},{"x":44.6858,"y":4.0},{"x":44.6861,"y":2.0},{"x":44.6864,"y":0.4},{"x":44.6868,"y":0.3},{"x":44.6872,"y":0.6},{"x":44.6876,"y":0.3},{"x":44.6880,"y":0.5},{"x":44.6884,"y":0.2},{"x":44.6888,"y":0.6},{"x":44.6892,"y":1.0},{"x":44.6896,"y":0.3},{"x":44.6900,"y":0.5},{"x":44.6904,"y":0.2},{"x":44.6908,"y":0.4},{"x":44.6912,"y":0.2},{"x":44.6916,"y":0.3},{"x":44.6920,"y":0.2},{"x":44.6924,"y":0.4},{"x":44.6928,"y":0.3},{"x":44.6932,"y":1.0},{"x":44.6934,"y":3.0},{"x":44.6936,"y":5.8},{"x":44.6939,"y":2.0},{"x":44.6942,"y":0.4},{"x":44.6946,"y":0.3},{"x":44.6949,"y":0.6},{"x":44.6952,"y":1.5},{"x":44.6956,"y":0.4},{"x":44.6960,"y":0.2},{"x":44.6964,"y":0.3},{"x":44.6968,"y":0.2},{"x":44.6972,"y":0.4},{"x":44.6976,"y":0.2},{"x":44.6980,"y":0.3},{"x":44.6984,"y":0.2},{"x":44.6988,"y":0.5},{"x":44.6992,"y":0.2},{"x":44.6996,"y":0.4},{"x":44.7000,"y":0.3},{"x":44.7004,"y":0.5},{"x":44.7008,"y":0.2},{"x":44.7012,"y":0.4},{"x":44.7016,"y":0.6},{"x":44.7019,"y":1.5},{"x":44.7023,"y":0.6},{"x":44.7026,"y":1.2},{"x":44.7029,"y":8.0},{"x":44.7031,"y":16.0},{"x":44.7034,"y":7.0},{"x":44.7037,"y":0.6},{"x":44.7041,"y":0.3},{"x":44.7045,"y":0.5},{"x":44.7049,"y":0.2},{"x":44.7053,"y":0.4},{"x":44.7057,"y":0.3},{"x":44.7060,"y":0.6},{"x":44.7063,"y":1.0},{"x":44.7067,"y":0.4},{"x":44.7071,"y":0.3},{"x":44.7075,"y":0.5},{"x":44.7079,"y":0.2},{"x":44.7083,"y":0.4},{"x":44.7087,"y":0.3},{"x":44.7091,"y":0.6},{"x":44.7094,"y":0.8},{"x":44.7097,"y":6.0},{"x":44.7099,"y":12.0},{"x":44.7102,"y":5.0},{"x":44.7105,"y":0.8},{"x":44.7109,"y":0.4},{"x":44.7113,"y":0.6},{"x":44.7117,"y":0.8},{"x":44.7119,"y":3.0},{"x":44.7121,"y":6.0},{"x":44.7124,"y":2.0},{"x":44.7128,"y":0.3},{"x":44.7132,"y":0.5},{"x":44.7136,"y":0.2},{"x":44.7139,"y":0.6},{"x":44.7143,"y":0.3},{"x":44.7147,"y":0.5},{"x":44.7151,"y":0.2},{"x":44.7155,"y":0.6},{"x":44.7158,"y":1.0},{"x":44.7161,"y":13.0},{"x":44.7163,"y":25.0},{"x":44.7166,"y":11.0},{"x":44.7169,"y":0.8},{"x":44.7173,"y":0.4},{"x":44.7177,"y":0.6},{"x":44.7181,"y":0.3},{"x":44.7184,"y":0.8},{"x":44.7186,"y":1.6},{"x":44.7190,"y":0.5},{"x":44.7194,"y":0.3},{"x":44.7198,"y":0.6},{"x":44.7202,"y":0.2},{"x":44.7206,"y":0.4},{"x":44.7210,"y":0.2},{"x":44.7214,"y":0.6},{"x":44.7218,"y":0.3},{"x":44.7223,"y":1.5},{"x":44.7227,"y":0.6},{"x":44.7231,"y":2.2},{"x":44.7235,"y":0.6},{"x":44.7239,"y":0.4},{"x":44.7243,"y":0.6},{"x":44.7247,"y":0.2},{"x":44.7251,"y":0.4},{"x":44.7255,"y":0.2},{"x":44.7259,"y":0.5},{"x":44.7263,"y":0.3},{"x":44.7267,"y":0.5},{"x":44.7271,"y":0.2},{"x":44.7275,"y":0.4},{"x":44.7279,"y":0.3},{"x":44.7284,"y":1.1},{"x":44.7288,"y":0.4},{"x":44.7292,"y":0.2},{"x":44.7296,"y":0.3},{"x":44.7300,"y":0.1},{"x":44.7304,"y":0.2},{"x":44.7307,"y":0.6},{"x":44.7309,"y":4.0},{"x":44.7311,"y":12.0},{"x":44.7314,"y":3.0},{"x":44.7317,"y":0.6},{"x":44.7320,"y":1.0},{"x":44.7324,"y":0.8},{"x":44.7327,"y":0.5},{"x":44.7331,"y":0.8},{"x":44.7334,"y":0.4},{"x":44.7337,"y":0.6},{"x":44.7340,"y":0.3},{"x":44.7344,"y":1.1},{"x":44.7348,"y":0.4},{"x":44.7352,"y":0.2},{"x":44.7356,"y":0.3},{"x":44.7360,"y":0.2},{"x":44.7364,"y":0.3},{"x":44.7369,"y":0.5},{"x":44.7373,"y":0.2},{"x":44.7377,"y":0.3},{"x":44.7381,"y":0.2},{"x":44.7385,"y":0.4},{"x":44.7388,"y":1.5},{"x":44.7389,"y":7.0},{"x":44.7391,"y":13.0},{"x":44.7394,"y":5.5},{"x":44.7397,"y":0.5},{"x":44.7401,"y":0.3},{"x":44.7405,"y":0.6},{"x":44.7409,"y":0.2},{"x":44.7413,"y":0.4},{"x":44.7417,"y":0.2},{"x":44.7421,"y":0.3},{"x":44.7425,"y":0.2},{"x":44.7429,"y":0.5},{"x":44.7432,"y":1.0},{"x":44.7436,"y":0.4},{"x":44.7440,"y":0.3},{"x":44.7444,"y":0.5},{"x":44.7448,"y":0.3},{"x":44.7452,"y":1.0},{"x":44.7455,"y":0.5},{"x":44.7459,"y":0.6},{"x":44.7463,"y":0.5},{"x":44.7466,"y":5.0},{"x":44.7469,"y":10.3},{"x":44.7472,"y":5.0},{"x":44.7476,"y":1.0},{"x":44.7480,"y":1.9},{"x":44.7484,"y":0.6},{"x":44.7487,"y":0.4},{"x":44.7491,"y":0.8},{"x":44.7495,"y":0.4},{"x":44.7499,"y":0.5},{"x":44.7503,"y":0.3},{"x":44.7507,"y":0.6},{"x":44.7511,"y":0.3},{"x":44.7515,"y":0.5},{"x":44.7519,"y":0.3},{"x":44.7523,"y":0.6},{"x":44.7526,"y":2.5},{"x":44.7529,"y":5.9},{"x":44.7532,"y":2.0},{"x":44.7536,"y":0.4},{"x":44.7540,"y":0.5},{"x":44.7544,"y":0.3},{"x":44.7548,"y":0.6},{"x":44.7552,"y":1.1},{"x":44.7556,"y":0.4},{"x":44.7560,"y":0.5},{"x":44.7564,"y":0.2},{"x":44.7568,"y":0.5},{"x":44.7572,"y":0.3},{"x":44.7576,"y":0.5},{"x":44.7580,"y":0.3},{"x":44.7584,"y":1.0},{"x":44.7588,"y":0.4},{"x":44.7592,"y":0.3},{"x":44.7596,"y":0.6},{"x":44.7600,"y":0.4},{"x":44.7602,"y":1.0},{"x":44.7606,"y":0.3},{"x":44.7610,"y":0.6},{"x":44.7614,"y":0.3},{"x":44.7618,"y":0.8},{"x":44.7622,"y":0.4},{"x":44.7626,"y":0.6},{"x":44.7630,"y":0.3},{"x":44.7634,"y":0.5},{"x":44.7638,"y":0.3},{"x":44.7641,"y":1.0},{"x":44.7645,"y":0.3},{"x":44.7649,"y":0.5},{"x":44.7653,"y":0.2},{"x":44.7657,"y":0.4},{"x":44.7661,"y":0.2},{"x":44.7665,"y":0.3},{"x":44.7669,"y":0.2},{"x":44.7673,"y":0.6},{"x":44.7677,"y":0.3},{"x":44.7680,"y":0.5},{"x":44.7682,"y":1.0},{"x":44.7686,"y":0.3},{"x":44.7690,"y":0.5},{"x":44.7693,"y":2.0},{"x":44.7695,"y":4.0},{"x":44.7698,"y":1.5},{"x":44.7701,"y":0.5},{"x":44.7705,"y":0.3},{"x":44.7709,"y":0.6},{"x":44.7713,"y":0.3},{"x":44.7717,"y":0.5},{"x":44.7721,"y":0.2},{"x":44.7725,"y":0.6},{"x":44.7729,"y":0.3},{"x":44.7733,"y":0.5},{"x":44.7737,"y":1.5},{"x":44.7741,"y":0.4},{"x":44.7745,"y":0.6},{"x":44.7749,"y":0.3},{"x":44.7753,"y":0.5},{"x":44.7757,"y":0.3},{"x":44.7761,"y":1.5},{"x":44.7765,"y":0.4},{"x":44.7769,"y":0.3},{"x":44.7773,"y":0.5},{"x":44.7777,"y":0.2},{"x":44.7781,"y":0.3},{"x":44.7785,"y":0.2},{"x":44.7789,"y":0.4},{"x":44.7793,"y":0.2},{"x":44.7798,"y":0.8},{"x":44.7802,"y":0.8},{"x":44.7806,"y":0.6},{"x":44.7810,"y":0.4},{"x":44.7814,"y":0.5},{"x":44.7818,"y":0.3},{"x":44.7822,"y":0.3},{"x":44.7826,"y":0.2},{"x":44.7830,"y":0.1},{"x":44.7846,"y":0.1},{"x":44.7852,"y":0.3},{"x":44.7858,"y":0.2},{"x":44.7862,"y":0.5},{"x":44.7866,"y":0.3},{"x":44.7870,"y":0.4},{"x":44.7874,"y":0.5},{"x":44.7877,"y":1.2},{"x":44.7881,"y":0.4},{"x":44.7885,"y":0.3},{"x":44.7889,"y":0.6},{"x":44.7893,"y":0.3},{"x":44.7896,"y":0.5},{"x":44.7900,"y":1.2},{"x":44.7904,"y":0.4},{"x":44.7908,"y":0.8},{"x":44.7912,"y":0.3},{"x":44.7916,"y":0.5},{"x":44.7920,"y":1.0},{"x":44.7924,"y":0.3},{"x":44.7927,"y":0.5},{"x":44.7929,"y":0.8},{"x":44.7933,"y":0.3},{"x":44.7937,"y":0.2},{"x":44.7941,"y":0.4},{"x":44.7945,"y":0.3},{"x":44.7949,"y":0.5},{"x":44.7953,"y":0.2},{"x":44.7957,"y":0.6},{"x":44.7961,"y":1.3},{"x":44.7965,"y":0.5},{"x":44.7969,"y":0.3},{"x":44.7973,"y":0.4},{"x":44.7977,"y":0.2},{"x":44.7981,"y":0.3},{"x":44.7985,"y":0.2},{"x":44.7989,"y":0.4},{"x":44.7993,"y":0.3},{"x":44.7997,"y":0.5},{"x":44.8001,"y":0.3},{"x":44.8006,"y":1.2},{"x":44.8010,"y":0.4},{"x":44.8014,"y":0.2},{"x":44.8018,"y":0.4},{"x":44.8022,"y":0.8},{"x":44.8024,"y":1.5},{"x":44.8026,"y":3.1},{"x":44.8029,"y":0.8},{"x":44.8033,"y":0.3},{"x":44.8037,"y":0.5},{"x":44.8041,"y":0.2},{"x":44.8044,"y":1.6},{"x":44.8048,"y":0.4},{"x":44.8052,"y":0.3},{"x":44.8056,"y":0.6},{"x":44.8060,"y":0.3},{"x":44.8064,"y":0.4},{"x":44.8068,"y":1.0},{"x":44.8071,"y":2.7},{"x":44.8074,"y":1.2},{"x":44.8078,"y":1.4},{"x":44.8082,"y":0.6},{"x":44.8086,"y":0.3},{"x":44.8090,"y":0.5},{"x":44.8094,"y":0.2},{"x":44.8097,"y":0.4},{"x":44.8100,"y":1.0},{"x":44.8104,"y":0.3},{"x":44.8108,"y":0.5},{"x":44.8112,"y":0.2},{"x":44.8116,"y":0.4},{"x":44.8120,"y":1.3},{"x":44.8124,"y":0.4},{"x":44.8128,"y":0.3},{"x":44.8132,"y":0.5},{"x":44.8136,"y":0.3},{"x":44.8140,"y":0.4},{"x":44.8144,"y":0.3},{"x":44.8148,"y":0.5},{"x":44.8151,"y":2.0},{"x":44.8154,"y":5.2},{"x":44.8157,"y":2.0},{"x":44.8160,"y":0.6},{"x":44.8163,"y":0.8},{"x":44.8166,"y":3.0},{"x":44.8169,"y":5.8},{"x":44.8172,"y":3.0},{"x":44.8175,"y":1.0},{"x":44.8178,"y":0.4},{"x":44.8182,"y":0.3},{"x":44.8186,"y":0.5},{"x":44.8190,"y":0.3},{"x":44.8194,"y":0.4},{"x":44.8197,"y":0.6},{"x":44.8201,"y":0.6},{"x":44.8205,"y":0.4},{"x":44.8208,"y":1.5},{"x":44.8211,"y":3.5},{"x":44.8214,"y":1.0},{"x":44.8218,"y":0.4},{"x":44.8222,"y":0.3},{"x":44.8226,"y":0.6},{"x":44.8230,"y":0.3},{"x":44.8234,"y":0.5},{"x":44.8238,"y":0.3},{"x":44.8242,"y":0.6},{"x":44.8246,"y":0.3},{"x":44.8250,"y":0.4},{"x":44.8254,"y":0.2},{"x":44.8257,"y":0.1},{"x":44.8266,"y":0.1},{"x":44.8272,"y":0.2},{"x":44.8278,"y":0.2},{"x":44.8284,"y":0.1},{"x":44.8300,"y":0.1},{"x":44.8306,"y":0.3},{"x":44.8310,"y":0.6},{"x":44.8314,"y":0.3},{"x":44.8318,"y":0.5},{"x":44.8322,"y":1.4},{"x":44.8326,"y":0.4},{"x":44.8330,"y":0.3},{"x":44.8334,"y":0.5},{"x":44.8338,"y":0.3},{"x":44.8342,"y":1.0},{"x":44.8346,"y":0.3},{"x":44.8350,"y":0.4},{"x":44.8354,"y":0.6},{"x":44.8357,"y":2.0},{"x":44.8359,"y":6.0},{"x":44.8361,"y":10.0},{"x":44.8364,"y":4.5},{"x":44.8367,"y":0.5},{"x":44.8370,"y":0.3},{"x":44.8374,"y":0.5},{"x":44.8378,"y":0.3},{"x":44.8382,"y":0.6},{"x":44.8385,"y":1.2},{"x":44.8387,"y":2.5},{"x":44.8389,"y":4.2},{"x":44.8392,"y":1.5},{"x":44.8396,"y":0.4},{"x":44.8400,"y":0.2},{"x":44.8404,"y":0.5},{"x":44.8408,"y":0.3},{"x":44.8412,"y":0.5},{"x":44.8416,"y":0.3},{"x":44.8419,"y":1.2},{"x":44.8423,"y":0.4},{"x":44.8427,"y":0.2},{"x":44.8431,"y":0.4},{"x":44.8435,"y":0.3},{"x":44.8439,"y":0.5},{"x":44.8442,"y":0.4},{"x":44.8445,"y":1.1},{"x":44.8449,"y":0.3},{"x":44.8453,"y":0.5},{"x":44.8457,"y":0.2},{"x":44.8461,"y":0.4},{"x":44.8465,"y":0.3},{"x":44.8469,"y":0.5},{"x":44.8472,"y":1.5},{"x":44.8476,"y":1.2},{"x":44.8478,"y":1.5},{"x":44.8481,"y":2.0},{"x":44.8484,"y":1.0},{"x":44.8488,"y":0.5},{"x":44.8492,"y":0.3},{"x":44.8496,"y":0.4},{"x":44.8500,"y":0.3},{"x":44.8504,"y":0.8},{"x":44.8508,"y":0.3},{"x":44.8512,"y":0.4},{"x":44.8517,"y":0.6},{"x":44.8521,"y":0.3},{"x":44.8525,"y":0.4},{"x":44.8529,"y":0.3},{"x":44.8533,"y":0.5},{"x":44.8538,"y":0.9},{"x":44.8542,"y":0.4},{"x":44.8546,"y":0.3},{"x":44.8550,"y":0.5},{"x":44.8552,"y":1.2},{"x":44.8554,"y":2.9},{"x":44.8557,"y":1.0},{"x":44.8561,"y":0.4},{"x":44.8565,"y":0.6},{"x":44.8569,"y":0.4},{"x":44.8572,"y":2.0},{"x":44.8574,"y":2.0},{"x":44.8577,"y":0.6},{"x":44.8581,"y":0.3},{"x":44.8585,"y":0.5},{"x":44.8589,"y":0.4},{"x":44.8592,"y":1.2},{"x":44.8595,"y":2.3},{"x":44.8598,"y":1.5},{"x":44.8602,"y":0.5},{"x":44.8606,"y":0.6},{"x":44.8610,"y":0.3},{"x":44.8614,"y":1.1},{"x":44.8618,"y":0.3},{"x":44.8622,"y":0.5},{"x":44.8625,"y":1.2},{"x":44.8627,"y":2.8},{"x":44.8630,"y":1.0},{"x":44.8634,"y":0.3},{"x":44.8638,"y":0.5},{"x":44.8642,"y":0.3},{"x":44.8646,"y":0.6},{"x":44.8650,"y":0.3},{"x":44.8654,"y":0.5},{"x":44.8658,"y":0.2},{"x":44.8662,"y":0.6},{"x":44.8666,"y":0.3},{"x":44.8670,"y":0.5},{"x":44.8674,"y":1.8},{"x":44.8678,"y":0.5},{"x":44.8682,"y":0.3},{"x":44.8686,"y":0.5},{"x":44.8690,"y":0.2},{"x":44.8694,"y":0.4},{"x":44.8698,"y":0.3},{"x":44.8702,"y":0.6},{"x":44.8706,"y":0.3},{"x":44.8710,"y":0.5},{"x":44.8714,"y":0.2},{"x":44.8718,"y":0.5},{"x":44.8722,"y":0.3},{"x":44.8726,"y":0.6},{"x":44.8730,"y":0.3},{"x":44.8734,"y":0.5},{"x":44.8738,"y":0.8},{"x":44.8741,"y":2.2},{"x":44.8743,"y":4.3},{"x":44.8746,"y":1.8},{"x":44.8750,"y":1.0},{"x":44.8753,"y":1.5},{"x":44.8755,"y":2.3},{"x":44.8758,"y":0.8},{"x":44.8762,"y":0.4},{"x":44.8766,"y":0.3},{"x":44.8770,"y":0.5},{"x":44.8774,"y":0.2},{"x":44.8778,"y":0.4},{"x":44.8782,"y":0.3},{"x":44.8786,"y":0.5},{"x":44.8790,"y":0.2},{"x":44.8794,"y":0.4},{"x":44.8798,"y":0.3},{"x":44.8802,"y":0.5},{"x":44.8806,"y":0.3},{"x":44.8810,"y":0.6},{"x":44.8812,"y":1.0},{"x":44.8816,"y":0.3},{"x":44.8820,"y":0.5},{"x":44.8824,"y":0.2},{"x":44.8828,"y":0.4},{"x":44.8832,"y":0.3},{"x":44.8836,"y":0.5},{"x":44.8840,"y":0.2},{"x":44.8844,"y":0.6},{"x":44.8848,"y":0.3},{"x":44.8852,"y":0.5},{"x":44.8856,"y":0.2},{"x":44.8860,"y":0.4},{"x":44.8864,"y":0.3},{"x":44.8868,"y":0.6},{"x":44.8872,"y":0.3},{"x":44.8876,"y":1.3},{"x":44.8880,"y":0.4},{"x":44.8884,"y":0.3},{"x":44.8888,"y":0.5},{"x":44.8892,"y":0.3},{"x":44.8896,"y":0.6},{"x":44.8900,"y":0.3},{"x":44.8904,"y":0.5},{"x":44.8908,"y":0.2},{"x":44.8912,"y":0.4},{"x":44.8916,"y":0.3},{"x":44.8920,"y":0.6},{"x":44.8924,"y":0.3},{"x":44.8928,"y":0.8},{"x":44.8931,"y":1.5},{"x":44.8932,"y":2.7},{"x":44.8935,"y":1.5},{"x":44.8938,"y":2.0},{"x":44.8940,"y":0}
],
"hl": [
{"g":1,"c":"green","x":44.3185,"y":0},{"g":1,"c":"green","x":44.3189,"y":1.35},{"g":1,"c":"green","x":44.3192,"y":0.6},{"g":1,"c":"green","x":44.3196,"y":0.3},{"g":1,"c":"green","x":44.3199,"y":0.5},{"g":1,"c":"green","x":44.3202,"y":0},
{"g":2,"c":"orange","x":44.3170,"y":0},{"g":2,"c":"orange","x":44.3173,"y":0.4},{"g":2,"c":"orange","x":44.3176,"y":0},
{"g":3,"c":"orange","x":44.3381,"y":0},{"g":3,"c":"orange","x":44.3383,"y":1.0},{"g":3,"c":"orange","x":44.3386,"y":0},
{"g":4,"c":"orange","x":44.3437,"y":0},{"g":4,"c":"orange","x":44.3440,"y":2.2},{"g":4,"c":"orange","x":44.3443,"y":0},
{"g":5,"c":"purple","x":44.3562,"y":0},{"g":5,"c":"purple","x":44.3564,"y":4.2},{"g":5,"c":"purple","x":44.3566,"y":0},
{"g":6,"c":"blue","x":44.3675,"y":0},{"g":6,"c":"blue","x":44.3677,"y":2.2},{"g":6,"c":"blue","x":44.3679,"y":0},
{"g":7,"c":"orange","x":44.3787,"y":0},{"g":7,"c":"orange","x":44.3788,"y":10.2},{"g":7,"c":"orange","x":44.3789,"y":0},
{"g":8,"c":"purple","x":44.3781,"y":0},{"g":8,"c":"purple","x":44.3783,"y":2.3},{"g":8,"c":"purple","x":44.3785,"y":0},
{"g":9,"c":"purple","x":44.3793,"y":0},{"g":9,"c":"purple","x":44.3795,"y":1.8},{"g":9,"c":"purple","x":44.3797,"y":0},
{"g":10,"c":"blue","x":44.3955,"y":0},{"g":10,"c":"blue","x":44.3957,"y":1.0},{"g":10,"c":"blue","x":44.3959,"y":0},
{"g":11,"c":"orange","x":44.4063,"y":0},{"g":11,"c":"orange","x":44.4065,"y":2.0},{"g":11,"c":"orange","x":44.4067,"y":0},
{"g":12,"c":"orange","x":44.4193,"y":0},{"g":12,"c":"orange","x":44.4195,"y":0.9},{"g":12,"c":"orange","x":44.4197,"y":0},
{"g":13,"c":"orange","x":44.4379,"y":0},{"g":13,"c":"orange","x":44.4381,"y":1.0},{"g":13,"c":"orange","x":44.4383,"y":0},
{"g":14,"c":"green","x":44.4647,"y":0},{"g":14,"c":"green","x":44.4652,"y":1.0},{"g":14,"c":"green","x":44.4656,"y":0.6},{"g":14,"c":"green","x":44.4659,"y":1.8},{"g":14,"c":"green","x":44.4662,"y":0.8},{"g":14,"c":"green","x":44.4666,"y":1.2},{"g":14,"c":"green","x":44.4669,"y":2.3},{"g":14,"c":"green","x":44.4672,"y":1.8},{"g":14,"c":"green","x":44.4675,"y":3.2},{"g":14,"c":"green","x":44.4678,"y":1.5},{"g":14,"c":"green","x":44.4682,"y":1.0},{"g":14,"c":"green","x":44.4685,"y":0.6},{"g":14,"c":"green","x":44.4689,"y":1.6},{"g":14,"c":"green","x":44.4693,"y":0.8},{"g":14,"c":"green","x":44.4696,"y":0.3},{"g":14,"c":"green","x":44.4700,"y":0.2},{"g":14,"c":"green","x":44.4704,"y":0.5},{"g":14,"c":"green","x":44.4707,"y":1.7},{"g":14,"c":"green","x":44.4710,"y":0.4},{"g":14,"c":"green","x":44.4712,"y":0},
{"g":15,"c":"purple","x":44.4712,"y":0},{"g":15,"c":"purple","x":44.4715,"y":0.6},{"g":15,"c":"purple","x":44.4717,"y":0.3},{"g":15,"c":"purple","x":44.4719,"y":1.1},{"g":15,"c":"purple","x":44.4721,"y":0.4},{"g":15,"c":"purple","x":44.4723,"y":0.9},{"g":15,"c":"purple","x":44.4725,"y":0},
{"g":16,"c":"blue","x":44.4819,"y":0},{"g":16,"c":"blue","x":44.4821,"y":1.9},{"g":16,"c":"blue","x":44.4824,"y":0},
{"g":17,"c":"blue","x":44.4797,"y":0},{"g":17,"c":"blue","x":44.4799,"y":1.2},{"g":17,"c":"blue","x":44.4801,"y":0},
{"g":18,"c":"blue","x":44.4876,"y":0},{"g":18,"c":"blue","x":44.4878,"y":1.7},{"g":18,"c":"blue","x":44.4880,"y":0},
{"g":19,"c":"orange","x":44.4959,"y":0},{"g":19,"c":"orange","x":44.4962,"y":2.7},{"g":19,"c":"orange","x":44.4965,"y":0},
{"g":20,"c":"blue","x":44.5035,"y":0},{"g":20,"c":"blue","x":44.5037,"y":0.7},{"g":20,"c":"blue","x":44.5039,"y":0},
{"g":21,"c":"orange","x":44.5150,"y":0},{"g":21,"c":"orange","x":44.5152,"y":1.6},{"g":21,"c":"orange","x":44.5154,"y":0},
{"g":22,"c":"blue","x":44.5304,"y":0},{"g":22,"c":"blue","x":44.5306,"y":2.4},{"g":22,"c":"blue","x":44.5308,"y":0},
{"g":23,"c":"orange","x":44.5349,"y":0},{"g":23,"c":"orange","x":44.5351,"y":1.5},{"g":23,"c":"orange","x":44.5353,"y":0},
{"g":24,"c":"blue","x":44.5364,"y":0},{"g":24,"c":"blue","x":44.5366,"y":3.7},{"g":24,"c":"blue","x":44.5368,"y":0},
{"g":25,"c":"orange","x":44.5614,"y":0},{"g":25,"c":"orange","x":44.5617,"y":4.9},{"g":25,"c":"orange","x":44.5620,"y":0},
{"g":26,"c":"blue","x":44.5693,"y":0},{"g":26,"c":"blue","x":44.5695,"y":7.8},{"g":26,"c":"blue","x":44.5697,"y":0},
{"g":27,"c":"orange","x":44.5716,"y":0},{"g":27,"c":"orange","x":44.5718,"y":0.6},{"g":27,"c":"orange","x":44.5720,"y":0},
{"g":28,"c":"blue","x":44.5732,"y":0},{"g":28,"c":"blue","x":44.5735,"y":76.0},{"g":28,"c":"blue","x":44.5737,"y":0},
{"g":29,"c":"blue","x":44.5778,"y":0},{"g":29,"c":"blue","x":44.5780,"y":0.7},{"g":29,"c":"blue","x":44.5782,"y":0},
{"g":30,"c":"orange","x":44.5808,"y":0},{"g":30,"c":"orange","x":44.5811,"y":0.8},{"g":30,"c":"orange","x":44.5814,"y":0},
{"g":31,"c":"blue","x":44.5825,"y":0},{"g":31,"c":"blue","x":44.5827,"y":1.1},{"g":31,"c":"blue","x":44.5829,"y":0},
{"g":32,"c":"orange","x":44.5834,"y":0},{"g":32,"c":"orange","x":44.5836,"y":1.0},{"g":32,"c":"orange","x":44.5838,"y":0},
{"g":33,"c":"orange","x":44.5936,"y":0},{"g":33,"c":"orange","x":44.5939,"y":6.5},{"g":33,"c":"orange","x":44.5942,"y":0},
{"g":34,"c":"orange","x":44.6086,"y":0},{"g":34,"c":"orange","x":44.6088,"y":1.6},{"g":34,"c":"orange","x":44.6090,"y":0},
{"g":35,"c":"blue","x":44.6149,"y":0},{"g":35,"c":"blue","x":44.6151,"y":1.7},{"g":35,"c":"blue","x":44.6153,"y":0},
{"g":36,"c":"orange","x":44.6175,"y":0},{"g":36,"c":"orange","x":44.6177,"y":1.0},{"g":36,"c":"orange","x":44.6179,"y":0},
{"g":37,"c":"blue","x":44.6216,"y":0},{"g":37,"c":"blue","x":44.6218,"y":1.0},{"g":37,"c":"blue","x":44.6220,"y":0},
{"g":38,"c":"blue","x":44.6232,"y":0},{"g":38,"c":"blue","x":44.6234,"y":2.8},{"g":38,"c":"blue","x":44.6236,"y":0},
{"g":39,"c":"blue","x":44.6248,"y":0},{"g":39,"c":"blue","x":44.6250,"y":6.8},{"g":39,"c":"blue","x":44.6252,"y":0},
{"g":40,"c":"blue","x":44.6293,"y":0},{"g":40,"c":"blue","x":44.6295,"y":11.7},{"g":40,"c":"blue","x":44.6297,"y":0},
{"g":41,"c":"orange","x":44.6334,"y":0},{"g":41,"c":"orange","x":44.6336,"y":0.8},{"g":41,"c":"orange","x":44.6338,"y":0},
{"g":42,"c":"purple","x":44.6359,"y":0},{"g":42,"c":"purple","x":44.6361,"y":9.0},{"g":42,"c":"purple","x":44.6363,"y":16.4},{"g":42,"c":"purple","x":44.6365,"y":8.0},{"g":42,"c":"purple","x":44.6367,"y":0},
{"g":43,"c":"blue","x":44.6505,"y":0},{"g":43,"c":"blue","x":44.6507,"y":12.0},{"g":43,"c":"blue","x":44.6509,"y":0},
{"g":44,"c":"orange","x":44.6555,"y":0},{"g":44,"c":"orange","x":44.6558,"y":3.4},{"g":44,"c":"orange","x":44.6561,"y":0},
{"g":45,"c":"blue","x":44.6630,"y":0},{"g":45,"c":"blue","x":44.6632,"y":7.8},{"g":45,"c":"blue","x":44.6634,"y":0},
{"g":46,"c":"blue","x":44.6831,"y":0},{"g":46,"c":"blue","x":44.6833,"y":2.5},{"g":46,"c":"blue","x":44.6835,"y":0},
{"g":47,"c":"orange","x":44.6985,"y":0},{"g":47,"c":"orange","x":44.6987,"y":0.6},{"g":47,"c":"orange","x":44.6989,"y":0},
{"g":48,"c":"orange","x":44.7135,"y":0},{"g":48,"c":"orange","x":44.7137,"y":0.6},{"g":48,"c":"orange","x":44.7139,"y":0},
{"g":49,"c":"orange","x":44.7162,"y":0},{"g":49,"c":"orange","x":44.7163,"y":24.5},{"g":49,"c":"orange","x":44.7164,"y":0},
{"g":50,"c":"orange","x":44.7305,"y":0},{"g":50,"c":"orange","x":44.7309,"y":15.0},{"g":50,"c":"orange","x":44.7311,"y":29.8},{"g":50,"c":"orange","x":44.7313,"y":14.0},{"g":50,"c":"orange","x":44.7317,"y":0},
{"g":51,"c":"orange","x":44.7328,"y":0},{"g":51,"c":"orange","x":44.7331,"y":1.8},{"g":51,"c":"orange","x":44.7334,"y":0},
{"g":52,"c":"orange","x":44.7430,"y":0},{"g":52,"c":"orange","x":44.7432,"y":1.2},{"g":52,"c":"orange","x":44.7434,"y":0},
{"g":53,"c":"purple","x":44.7487,"y":0},{"g":53,"c":"purple","x":44.7489,"y":1.9},{"g":53,"c":"purple","x":44.7491,"y":0},
{"g":54,"c":"purple","x":44.7529,"y":0},{"g":54,"c":"purple","x":44.7531,"y":5.0},{"g":54,"c":"purple","x":44.7533,"y":0},
{"g":55,"c":"orange","x":44.7580,"y":0},{"g":55,"c":"orange","x":44.7582,"y":1.0},{"g":55,"c":"orange","x":44.7584,"y":0},
{"g":56,"c":"blue","x":44.7694,"y":0},{"g":56,"c":"blue","x":44.7696,"y":4.2},{"g":56,"c":"blue","x":44.7698,"y":0},
{"g":57,"c":"orange","x":44.7795,"y":0},{"g":57,"c":"orange","x":44.7798,"y":1.9},{"g":57,"c":"orange","x":44.7801,"y":0},
{"g":58,"c":"green","x":44.7828,"y":0},{"g":58,"c":"green","x":44.7832,"y":1.0},{"g":58,"c":"green","x":44.7835,"y":4.5},{"g":58,"c":"green","x":44.7837,"y":11.5},{"g":58,"c":"green","x":44.7838,"y":14.9},{"g":58,"c":"green","x":44.7840,"y":9.0},{"g":58,"c":"green","x":44.7842,"y":3.5},{"g":58,"c":"green","x":44.7845,"y":1.0},{"g":58,"c":"green","x":44.7848,"y":0.3},{"g":58,"c":"green","x":44.7851,"y":0},
{"g":59,"c":"green","x":44.7853,"y":0},{"g":59,"c":"green","x":44.7855,"y":1.0},{"g":59,"c":"green","x":44.7857,"y":0},
{"g":60,"c":"orange","x":44.7918,"y":0},{"g":60,"c":"orange","x":44.7920,"y":1.6},{"g":60,"c":"orange","x":44.7922,"y":0},
{"g":61,"c":"orange","x":44.7927,"y":0},{"g":61,"c":"orange","x":44.7929,"y":1.6},{"g":61,"c":"orange","x":44.7931,"y":0},
{"g":62,"c":"blue","x":44.8025,"y":0},{"g":62,"c":"blue","x":44.8027,"y":3.0},{"g":62,"c":"blue","x":44.8029,"y":0},
{"g":63,"c":"blue","x":44.8196,"y":0},{"g":63,"c":"blue","x":44.8198,"y":2.2},{"g":63,"c":"blue","x":44.8200,"y":0},
{"g":64,"c":"green","x":44.8255,"y":0},{"g":64,"c":"green","x":44.8258,"y":3.5},{"g":64,"c":"green","x":44.8260,"y":7.1},{"g":64,"c":"green","x":44.8262,"y":3.5},{"g":64,"c":"green","x":44.8265,"y":0.8},{"g":64,"c":"green","x":44.8268,"y":0.4},{"g":64,"c":"green","x":44.8272,"y":0.2},{"g":64,"c":"green","x":44.8275,"y":1.0},{"g":64,"c":"green","x":44.8278,"y":0.2},{"g":64,"c":"green","x":44.8281,"y":0},
{"g":65,"c":"purple","x":44.8282,"y":0},{"g":65,"c":"purple","x":44.8285,"y":0.4},{"g":65,"c":"purple","x":44.8288,"y":0.3},{"g":65,"c":"purple","x":44.8291,"y":0.4},{"g":65,"c":"purple","x":44.8294,"y":0.2},{"g":65,"c":"purple","x":44.8297,"y":0.8},{"g":65,"c":"purple","x":44.8300,"y":0.3},{"g":65,"c":"purple","x":44.8303,"y":0},
{"g":66,"c":"blue","x":44.8356,"y":0},{"g":66,"c":"blue","x":44.8358,"y":9.5},{"g":66,"c":"blue","x":44.8360,"y":0},
{"g":67,"c":"orange","x":44.8470,"y":0},{"g":67,"c":"orange","x":44.8472,"y":1.8},{"g":67,"c":"orange","x":44.8474,"y":0}
],
"snp": [{"x":44.481,"y":0,"yt":7.63}],
"snplab": [{"x":44.481,"y":8.95,"label":"rs4953076"}]
},
"encoding": {
"x": {"field": "x", "type": "quantitative",
 "scale": {"domain": [44.286, 44.9232], "nice": false, "zero": false},
 "axis": {"title": "position (Mb)", "values": [44.3,44.35,44.4,44.45,44.5,44.55,44.6,44.65,44.7,44.75,44.8,44.85,44.9],
  "labelExpr": "abs(datum.value*10-round(datum.value*10))<0.01 ? format(datum.value,'.1f') : ''",
  "domain": false, "labelFont": "Liberation Sans", "labelFontSize": 34, "labelColor": "#7F7F7F", "labelPadding": 7, "labelOverlap": false, "labelFlush": false,
  "tickColor": "#7F7F7F", "tickSize": 15.6, "tickWidth": 4.3,
  "tickOpacity": {"condition": {"test": "abs(datum.value*10-round(datum.value*10))<0.01", "value": 1}, "value": 0},
  "gridColor": {"condition": {"test": "abs(datum.value*10-round(datum.value*10))<0.01", "value": "#FFFFFF"}, "value": "#F2F2F2"},
  "gridWidth": {"condition": {"test": "abs(datum.value*10-round(datum.value*10))<0.01", "value": 4.9}, "value": 2.4},
  "titleFont": "Liberation Sans", "titleFontSize": 43, "titleFontWeight": "normal", "titleColor": "black", "titlePadding": 6}},
"y": {"field": "y", "type": "quantitative",
 "scale": {"domain": [-3.87, 80.93], "nice": false, "zero": false},
 "axis": {"title": "-log₁₀(p)", "values": [0,10,20,30,40,50,60,70,80],
  "labelExpr": "datum.value % 20 === 0 ? datum.label : ''",
  "domain": false, "labelFont": "Liberation Sans", "labelFontSize": 34, "labelColor": "#7F7F7F", "labelPadding": 9, "labelOverlap": false, "labelFlush": false,
  "tickColor": "#7F7F7F", "tickSize": 16, "tickWidth": 4.3,
  "tickOpacity": {"condition": {"test": "datum.value % 20 === 0", "value": 1}, "value": 0},
  "gridColor": {"condition": {"test": "datum.value % 20 === 0", "value": "#FFFFFF"}, "value": "#F2F2F2"},
  "gridWidth": {"condition": {"test": "datum.value % 20 === 0", "value": 4.9}, "value": 2.4},
  "titleFont": "Liberation Sans", "titleFontSize": 43, "titleFontWeight": "normal", "titleColor": "black", "titlePadding": 14}}
},
"layer": [
{
"data": {"name": "main"},
"mark": {"type": "area", "color": "#E31A1C", "interpolate": "linear"}
},
{
"data": {"name": "hl"},
"mark": {"type": "area", "interpolate": "linear"},
"encoding": {
"detail": {"field": "g", "type": "nominal"},
"color": {"field": "c", "type": "nominal", "legend": null,
 "scale": {"domain": ["blue","green","purple","orange"], "range": ["#1F78B4","#33A02C","#6A3D9A","#FF7F00"]}}
}
},
{
"data": {"name": "snp"},
"mark": {"type": "rule", "color": "black", "strokeWidth": 5.5, "strokeDash": [13, 14]},
"encoding": {"y2": {"field": "yt"}}
},
{
"data": {"name": "snp"},
"mark": {"type": "point", "filled": true, "color": "black", "opacity": 1, "size": 400}
},
{
"data": {"name": "snplab"},
"mark": {"type": "text", "font": "Liberation Sans", "fontSize": 41, "color": "black", "align": "center", "baseline": "alphabetic"},
"encoding": {"text": {"field": "label"}}
}
]
}
